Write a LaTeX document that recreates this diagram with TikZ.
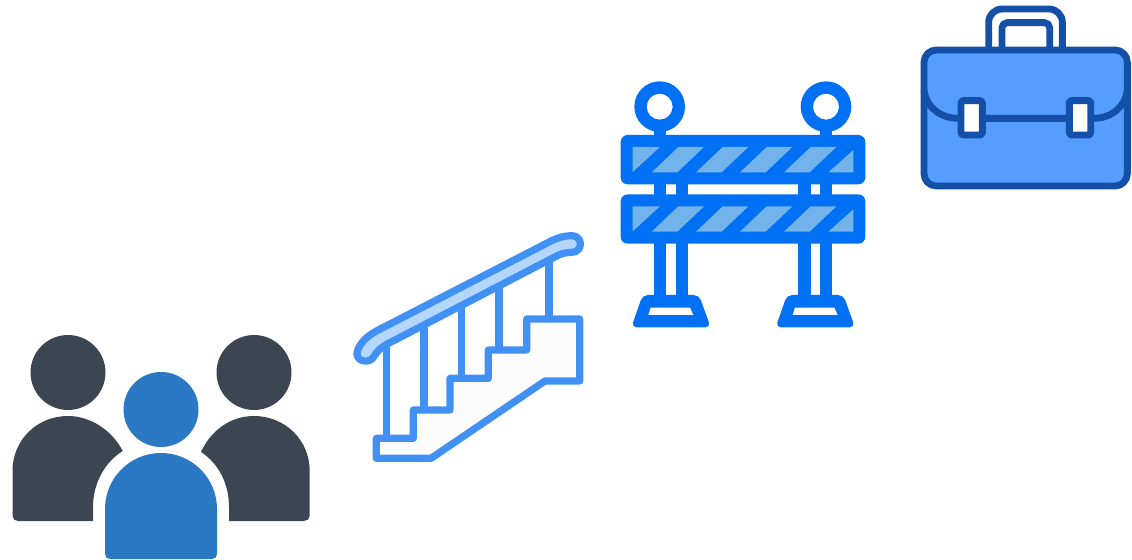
\documentclass[tikz,border=0pt]{standalone}
\usepackage{xcolor}
\definecolor{peopledark}{HTML}{3B4652}
\definecolor{peopleblue}{HTML}{2B78C5}
\definecolor{stairline}{HTML}{4191F5}
\definecolor{stairfill}{HTML}{FCFCFC}
\definecolor{railfill}{HTML}{B4D7FF}
\definecolor{barrierblue}{HTML}{0070F4}
\definecolor{stripefill}{HTML}{72B3EB}
\definecolor{caseline}{HTML}{1550A8}
\definecolor{casefill}{HTML}{559DFF}
\tikzset{
  stairpart/.style={draw=stairline,line width=4.1pt,line join=round,line cap=round},
  casepart/.style={draw=caseline,line width=3.9pt,line join=round},
  barrierpart/.style={fill=barrierblue},
  stripepart/.style={fill=stripefill}
}
\begin{document}
\begin{tikzpicture}[x=0.02cm,y=-0.02cm]
\useasboundingbox (0,0) rectangle (1132,560);
% people
\foreach \headx in {68,254} \fill[peopledark] (\headx,372.5) circle[radius=37.5];
\fill[peopledark] (12.5,471) .. controls (12.5,440) and (37,416) .. (68,416)
  .. controls (90,416) and (112,430) .. (122.7,451)
  .. controls (105,462) and (93,483) .. (93,507) -- (93,521) -- (18,521)
  .. controls (15,521) and (12.5,519) .. (12.5,516) -- cycle;
\fill[peopledark] (309.7,471) .. controls (309.7,440) and (285,416) .. (254,416)
  .. controls (231,416) and (211,430) .. (201,452)
  .. controls (218,463) and (229,483) .. (229,507) -- (229,521) -- (304,521)
  .. controls (307,521) and (309.7,519) .. (309.7,516) -- cycle;
\fill[peopleblue] (161,409.5) circle[radius=37.5];
\fill[peopleblue] (105,509) .. controls (105,478) and (130,453) .. (161,453)
  .. controls (192,453) and (217,478) .. (217,509) -- (217,554)
  .. controls (217,557) and (215,559) .. (212,559) -- (110,559)
  .. controls (107,559) and (105,557) .. (105,554) -- cycle;
% stairs
\begin{scope}[shift={(345,225)},scale=1/3]
\draw[stairpart,fill=stairfill] (94,640) -- (94,700) -- (258,700) -- (600,468) -- (704,468)
  -- (704,282) -- (545,282) -- (545,375) -- (430,375) -- (430,460) -- (315,460)
  -- (315,555) -- (205,555) -- (205,640) -- cycle;
\draw[stairpart] (125,360) -- (125,640);
\draw[stairpart] (237,310) -- (237,555);
\draw[stairpart] (350,250) -- (350,460);
\draw[stairpart] (462,190) -- (462,375);
\draw[stairpart] (612,110) -- (612,282);
\draw[stairpart,fill=railfill] (100,315) -- (620,47) .. controls (640,37) and (660,32) .. (680,32)
  .. controls (715,32) and (715,82) .. (680,82) .. controls (665,82) and (650,85) .. (635,93)
  -- (125,358) .. controls (108,367) and (95,380) .. (88,393)
  .. controls (75,420) and (25,410) .. (38,375) .. controls (48,350) and (70,330) .. (100,315) -- cycle;
\end{scope}
% barrier
\begin{scope}[shift={(610,75)},scale=1/3]
\foreach \headx in {149,648} {
  \fill[barrierpart,even odd rule] (\headx,95) circle[radius=76] (\headx,95) circle[radius=39];
  \fill[barrierpart] (\headx-18,160) rectangle (\headx+18,190);
}
\foreach \legx in {132,197,565,630}
  \fill[barrierpart] (\legx,320) rectangle (\legx+37,670);
\foreach \postx in {0,433} {
  \fill[barrierpart,rounded corners=3pt] (98+\postx,660) -- (267+\postx,660)
    -- (302+\postx,757) -- (64+\postx,757) -- cycle;
  \fill[white] (122+\postx,698) -- (240+\postx,698) -- (250+\postx,720) -- (115+\postx,720) -- cycle;
}
\foreach \boardy in {0,178} {
  \fill[barrierpart,rounded corners=4pt] (32,180+\boardy) rectangle (766,328+\boardy);
  \fill[stripepart] (68,216+\boardy) -- (150,216+\boardy) -- (68,291+\boardy) -- cycle;
  \foreach \stripex in {125,258,390,522}
    \fill[stripepart] (\stripex,292+\boardy) -- (\stripex+80,216+\boardy) -- (\stripex+157,216+\boardy) -- (\stripex+77,292+\boardy) -- cycle;
  \fill[stripepart] (655,292+\boardy) -- (730,225+\boardy) -- (730,292+\boardy) -- cycle;
}
\end{scope}
% briefcase
\begin{scope}[shift={(910,0)},scale=1/3]
\draw[casepart,fill=white] (236,150) -- (236,67) .. controls (236,45) and (254,27) .. (276,27)
  -- (417,27) .. controls (439,27) and (457,45) .. (457,67) -- (457,150);
\draw[casepart] (276,150) -- (276,83) .. controls (276,75) and (283,68) .. (291,68)
  -- (404,68) .. controls (412,68) and (419,75) .. (419,83) -- (419,150);
\draw[casepart,fill=casefill,rounded corners=7pt] (42,150) rectangle (652,558);
\draw[casepart] (42,270) .. controls (48,320) and (90,355) .. (145,355) -- (550,355)
  .. controls (605,355) and (646,320) .. (652,270);
\foreach \clampx in {153,478}
  \draw[casepart,fill=white,rounded corners=1pt] (\clampx,302) rectangle (\clampx+64,405);
\end{scope}
\end{tikzpicture}
\end{document}
